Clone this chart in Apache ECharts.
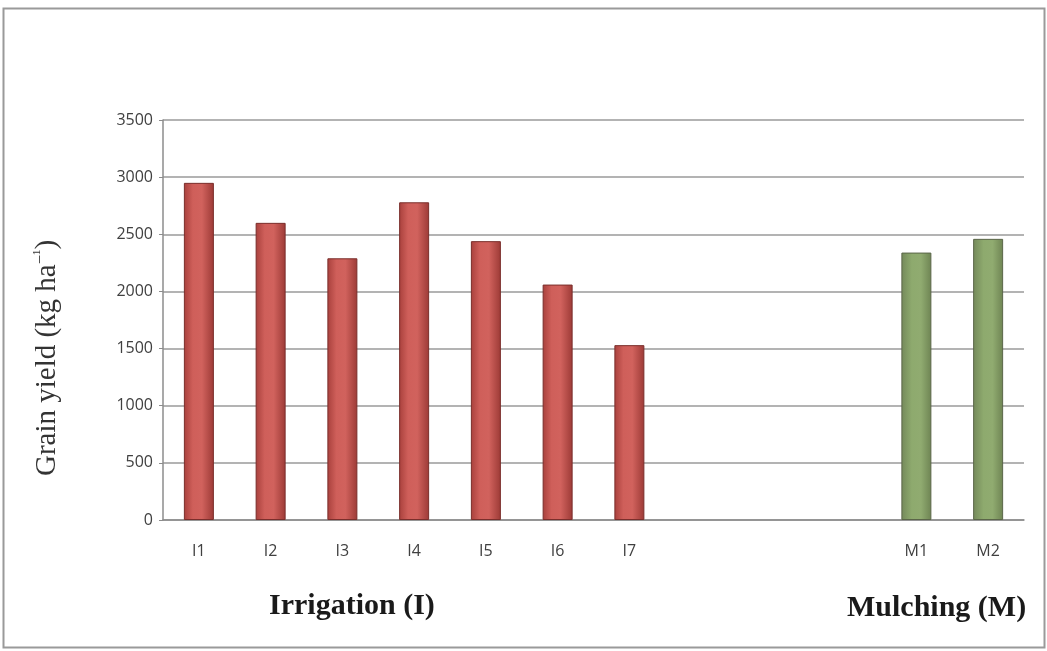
<!DOCTYPE html>
<html>
<head>
<meta charset="utf-8">
<script src="https://cdn.jsdelivr.net/npm/echarts@6/dist/echarts.min.js"></script>
<style>
  html, body { margin: 0; padding: 0; background: #fff; }
  #chart { width: 1047px; height: 651px; }
</style>
</head>
<body>
<div id="chart"></div>
<script>
// Grain yield by treatment (kg ha-1)
const irrigationLabels = ['I1', 'I2', 'I3', 'I4', 'I5', 'I6', 'I7'];
const irrigationYield = [2950, 2600, 2290, 2780, 2440, 2060, 1530];
const mulchingLabels = ['M1', 'M2'];
const mulchingYield = [2340, 2460];
const emptySlots = 3; // blank category slots separating the two groups
const yTicks = { min: 0, max: 3500, interval: 500 };

const blanks = Array.from({ length: emptySlots }, () => '');
const categories = irrigationLabels.concat(blanks, mulchingLabels);
const irrigationData = irrigationYield.concat(
  Array(emptySlots + mulchingLabels.length).fill(null));
const mulchingData = Array(irrigationLabels.length + emptySlots).fill(null)
  .concat(mulchingYield);

const redFill = new echarts.graphic.LinearGradient(0, 0, 1, 0, [
  { offset: 0, color: '#a8403c' },
  { offset: 0.3, color: '#cf5f5a' },
  { offset: 0.6, color: '#d1625d' },
  { offset: 1, color: '#9c3a36' }
]);
const greenFill = new echarts.graphic.LinearGradient(0, 0, 1, 0, [
  { offset: 0, color: '#74895a' },
  { offset: 0.35, color: '#8eaa6e' },
  { offset: 0.65, color: '#90ab70' },
  { offset: 1, color: '#6e8453' }
]);

const serif = '"Liberation Serif", "DejaVu Serif", serif';
const sans = '"Open Sans", "Noto Sans", sans-serif';

const chart = echarts.init(document.getElementById('chart'));
chart.setOption({
  backgroundColor: '#ffffff',
  animation: false,
  grid: { left: 163, right: 23, top: 120, bottom: 131 },
  graphic: [
    {
      type: 'rect',
      shape: { x: 3.5, y: 8.5, width: 1041, height: 639 },
      style: { fill: 'none', stroke: '#9a9a9a', lineWidth: 2 },
      silent: true
    },
    {
      // vertical value-axis title
      type: 'text',
      x: 47, y: 358,
      rotation: Math.PI / 2,
      style: {
        text: '{t|Grain yield (kg ha}{s|\u2212\u00B9}{t|)}',
        align: 'center',
        verticalAlign: 'middle',
        rich: {
          t: { fill: '#333333', fontFamily: serif, fontSize: 29 },
          s: { fill: '#333333', fontFamily: serif, fontSize: 17, verticalAlign: 'top', padding: [0, 0, 12, 0] }
        }
      }
    },
    {
      type: 'text',
      left: 269, top: 591,
      style: { text: 'Irrigation (I)', font: 'bold 30px ' + serif, fill: '#1a1a1a' }
    },
    {
      type: 'text',
      left: 847, top: 593,
      style: { text: 'Mulching (M)', font: 'bold 30px ' + serif, fill: '#1a1a1a' }
    }
  ],
  xAxis: {
    type: 'category',
    data: categories,
    axisLine: { lineStyle: { color: '#8c8c8c', width: 1.5 } },
    axisTick: { show: false },
    axisLabel: { color: '#404040', fontFamily: sans, fontSize: 16, margin: 23 }
  },
  yAxis: {
    type: 'value',
    min: yTicks.min,
    max: yTicks.max,
    interval: yTicks.interval,
    axisLine: { show: true, lineStyle: { color: '#8c8c8c', width: 1.5 } },
    axisTick: { show: true, length: 4, lineStyle: { color: '#8c8c8c' } },
    splitLine: { lineStyle: { color: '#9a9a9a', width: 1.5 } },
    axisLabel: {
      color: '#404040',
      fontFamily: sans,
      fontSize: 16,
      margin: 10,
      formatter: (v) => String(v)
    }
  },
  series: [
    {
      name: 'Irrigation',
      type: 'bar',
      data: irrigationData,
      barWidth: 30,
      barGap: '-100%',
      itemStyle: { color: redFill, borderColor: '#7a2e2b', borderWidth: 1 }
    },
    {
      name: 'Mulching',
      type: 'bar',
      data: mulchingData,
      barWidth: 30,
      itemStyle: { color: greenFill, borderColor: '#5a6548', borderWidth: 1 }
    }
  ]
});
</script>
</body>
</html>
